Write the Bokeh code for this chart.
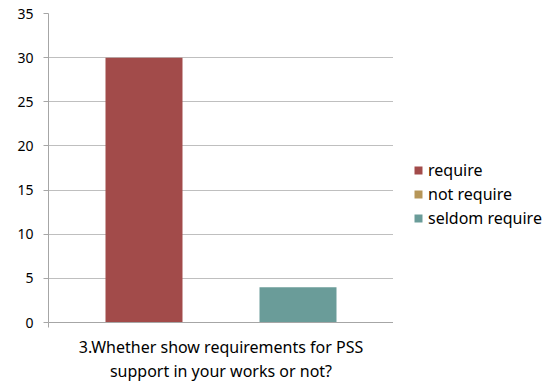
from bokeh.plotting import figure
from bokeh.models import Range1d, FixedTicker, Legend, LegendItem
from bokeh.layouts import row
from bokeh.embed import file_html
from bokeh.resources import INLINE

categories = ["3.Whether show requirements for PSS\nsupport in your works or not?"]
series = ["require", "not require", "seldom require"]
values = [30, 0, 4]
colors = ["#A24B4A", "#B69658", "#6A9C99"]
y_ticks = [0, 5, 10, 15, 20, 25, 30, 35]

FONT = "Noto Sans"
FS = "16px"

p = figure(width=393, height=387, output_backend="svg", toolbar_location=None,
           x_range=Range1d(0, 1), y_range=Range1d(0, 35),
           min_border_left=48, min_border_right=0,
           min_border_top=13, min_border_bottom=65)
p.outline_line_color = None
p.background_fill_color = "white"
p.border_fill_color = "white"

p.xgrid.visible = False
p.ygrid.grid_line_color = "#BFBFBF"
p.ygrid.grid_line_width = 1

p.yaxis.ticker = FixedTicker(ticks=y_ticks)
p.yaxis.axis_line_color = "#A6A6A6"
p.yaxis.major_tick_line_color = "#A6A6A6"
p.yaxis.major_tick_out = 5
p.yaxis.major_tick_in = 0
p.yaxis.minor_tick_line_color = None
p.yaxis.major_label_text_font = FONT
p.yaxis.major_label_text_font_size = "14px"
p.yaxis.major_label_text_color = "#000000"
p.yaxis.major_label_standoff = 10

p.xaxis.ticker = FixedTicker(ticks=[0, 1])
p.xaxis.major_label_overrides = {0: "", 1: ""}
p.xaxis.axis_line_color = "#A6A6A6"
p.xaxis.major_tick_line_color = "#A6A6A6"
p.xaxis.major_tick_out = 5
p.xaxis.major_tick_in = 0
p.xaxis.minor_tick_line_color = None
p.xaxis.axis_label = categories[0]
p.xaxis.axis_label_text_font = FONT
p.xaxis.axis_label_text_font_size = FS
p.xaxis.axis_label_text_font_style = "normal"
p.xaxis.axis_label_text_color = "#000000"
p.xaxis.axis_label_text_line_height = 1.1
p.xaxis.axis_label_standoff = 8

bar_w = 0.2232
center = 0.5
for i, (v, c) in enumerate(zip(values, colors)):
    p.vbar(x=[center + (i - 1) * bar_w], top=[v], width=bar_w, bottom=0,
           fill_color=c, line_color=None)

# legend panel
lp = figure(width=152, height=387, output_backend="svg", toolbar_location=None,
            x_range=Range1d(0, 1), y_range=Range1d(0, 1),
            min_border=0)
lp.outline_line_color = None
lp.axis.visible = False
lp.grid.visible = False
lp.border_fill_color = "white"
items = []
for s, c in zip(series, colors):
    r = lp.vbar(x=[0.5], top=[0], bottom=[0], width=0.0, fill_color=c, line_color=None)
    items.append(LegendItem(label=s, renderers=[r]))

legend = Legend(items=items, location=(20, 92))
legend.label_text_font = FONT
legend.label_text_font_size = FS
legend.label_text_color = "#000000"
legend.glyph_width = 10
legend.glyph_height = 10
legend.label_standoff = 5
legend.spacing = 0
legend.label_height = 24
legend.padding = 0
legend.margin = 0
legend.border_line_color = None
legend.background_fill_alpha = 0
lp.add_layout(legend)

layout = row(p, lp)
open("out.html", "w").write(file_html(layout, INLINE))
